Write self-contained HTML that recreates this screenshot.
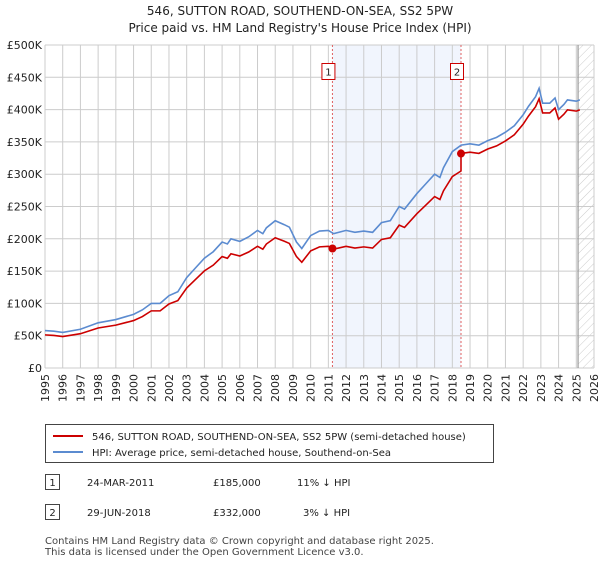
<!DOCTYPE html>
<html><head><meta charset="utf-8"><style>
body{margin:0;background:#fff;font-family:"Liberation Sans","DejaVu Sans",sans-serif;}
svg text{font-family:"DejaVu Sans","Liberation Sans",sans-serif;}
</style></head><body>
<svg id="chart" width="600" height="560" viewBox="0 0 600 560" xmlns="http://www.w3.org/2000/svg">
<defs><pattern id="hatch" width="6" height="6" patternUnits="userSpaceOnUse" patternTransform="rotate(45)"><line x1="0" y1="0" x2="0" y2="6" stroke="#ccc" stroke-width="1"/></pattern></defs>
<text x="300" y="15" text-anchor="middle" font-size="12" fill="#222">546, SUTTON ROAD, SOUTHEND-ON-SEA, SS2 5PW</text>
<text x="300" y="32" text-anchor="middle" font-size="12" fill="#222">Price paid vs. HM Land Registry's House Price Index (HPI)</text>
<g id="plot"></g>
<g>
<rect x="45.5" y="424.5" width="448" height="38" fill="#fff" stroke="#444"/>
<line x1="53" y1="436" x2="83" y2="436" stroke="#cc0000" stroke-width="2"/>
<text x="92" y="440" font-size="10" fill="#222">546, SUTTON ROAD, SOUTHEND-ON-SEA, SS2 5PW (semi-detached house)</text>
<line x1="53" y1="452" x2="83" y2="452" stroke="#5b8bd0" stroke-width="2"/>
<text x="92" y="456" font-size="10" fill="#222">HPI: Average price, semi-detached house, Southend-on-Sea</text>
</g>
<g font-size="10" fill="#222">
<rect x="45.5" y="474.5" width="14" height="15" fill="#fff" stroke="#444"/><text x="52.5" y="486" text-anchor="middle">1</text>
<text x="87" y="486">24-MAR-2011</text><text x="213" y="486">£185,000</text><text x="297" y="486">11% ↓ HPI</text>
<rect x="45.5" y="504.5" width="14" height="15" fill="#fff" stroke="#444"/><text x="52.5" y="516" text-anchor="middle">2</text>
<text x="87" y="516">29-JUN-2018</text><text x="213" y="516">£332,000</text><text x="303" y="516">3% ↓ HPI</text>
</g>
<text x="45" y="544" font-size="10" fill="#444">Contains HM Land Registry data © Crown copyright and database right 2025.</text>
<text x="45" y="555" font-size="10" fill="#444">This data is licensed under the Open Government Licence v3.0.</text>
</svg>
<script>
const hpiYears=[1995,1995.5,1996,1997,1998,1999,2000,2000.5,2001,2001.5,2002,2002.5,2003,2003.5,2004,2004.5,2005,2005.3,2005.5,2006,2006.5,2007,2007.3,2007.5,2008,2008.5,2008.8,2009.2,2009.5,2010,2010.5,2011,2011.3,2012,2012.5,2013,2013.5,2014,2014.5,2015,2015.3,2016,2016.5,2017,2017.3,2017.5,2018,2018.5,2019,2019.5,2020,2020.5,2021,2021.5,2022,2022.3,2022.7,2022.9,2023.1,2023.5,2023.8,2024,2024.3,2024.5,2025,2025.2];
const hpiValues=[58,57,55,60,70,75,83,90,100,100,112,118,140,155,170,180,195,192,200,196,203,213,208,217,228,222,218,195,185,205,212,213,208,213,210,212,210,225,228,250,246,270,285,300,295,310,335,345,347,345,352,357,365,375,392,405,420,433,410,410,418,400,408,415,413,415];
const saleDates=[2011.23,2018.49];
const salePrices=[185,332];
const saleLabels=["1","2"];
const yTicks=[0,50,100,150,200,250,300,350,400,450,500];
const yTickLabels=["£0","£50K","£100K","£150K","£200K","£250K","£300K","£350K","£400K","£450K","£500K"];
const xYears=[1995,1996,1997,1998,1999,2000,2001,2002,2003,2004,2005,2006,2007,2008,2009,2010,2011,2012,2013,2014,2015,2016,2017,2018,2019,2020,2021,2022,2023,2024,2025,2026];

const X0=45,X1=594,Y0=368,Y1=45;
const xs=y=>X0+(y-1995)/(2026-1995)*(X1-X0);
const ys=v=>Y0-v/500*(Y0-Y1);
const NS="http://www.w3.org/2000/svg";
const g=document.getElementById('plot');
function mk(t,a){const e=document.createElementNS(NS,t);for(const k in a)e.setAttribute(k,a[k]);g.appendChild(e);return e;}
function hpiAt(t){for(let i=0;i<hpiYears.length-1;i++){if(t<=hpiYears[i+1]){const f=(t-hpiYears[i])/(hpiYears[i+1]-hpiYears[i]);return hpiValues[i]+f*(hpiValues[i+1]-hpiValues[i]);}}return hpiValues[hpiValues.length-1];}

let e=mk('rect',{x:xs(saleDates[0]),y:Y1,width:xs(saleDates[1])-xs(saleDates[0]),height:Y0-Y1,fill:'#eef3fd',opacity:0.8});


e=mk('rect',{x:xs(2025.1),y:Y1,width:X1-xs(2025.1),height:Y0-Y1,fill:'url(#hatch)'});


yTicks.forEach((v,i)=>{
 e=mk('line',{x1:X0,x2:X1,y1:ys(v),y2:ys(v),stroke:'#ccc'});
 
 
 e=mk('text',{x:X0-3,y:ys(v)+4,'text-anchor':'end','font-size':11,fill:'#222'});
 e.textContent=yTickLabels[i];
 
 
});
xYears.forEach(y=>{
 e=mk('line',{x1:xs(y),x2:xs(y),y1:Y1,y2:Y0,stroke:'#ccc'});
 
 
 e=mk('text',{x:0,y:0,'text-anchor':'end','font-size':11,fill:'#222',transform:`translate(${xs(y)+4},${Y0+6}) rotate(-90)`});
 e.textContent=y;
 
 
});
e=mk('line',{x1:xs(2025.1),x2:xs(2025.1),y1:Y1,y2:Y0,stroke:'#999','stroke-width':1.2});


saleDates.forEach((d,i)=>{
 e=mk('line',{x1:xs(d),x2:xs(d),y1:Y1,y2:Y0,stroke:'#e06060','stroke-dasharray':'2,2'});
 
 
});
e=mk('polyline',{points:hpiYears.map((y,i)=>xs(y)+','+ys(hpiValues[i])).join(' '),fill:'none',stroke:'#5b8bd0','stroke-width':1.6});


const pts=[];
hpiYears.forEach((y,i)=>{
 if(y<saleDates[1]){pts.push([y,hpiValues[i]*salePrices[0]/hpiAt(saleDates[0])]);}
 else{ if(pts.length&&pts[pts.length-1][0]<saleDates[1]){pts.push([saleDates[1],hpiAt(saleDates[1])*salePrices[0]/hpiAt(saleDates[0])]);pts.push([saleDates[1],salePrices[1]]);}
  pts.push([y,hpiValues[i]*salePrices[1]/hpiAt(saleDates[1])]);}
});
e=mk('polyline',{points:pts.map(p=>xs(p[0])+','+ys(p[1])).join(' '),fill:'none',stroke:'#cc0000','stroke-width':1.6});


saleDates.forEach((d,i)=>{
 e=mk('circle',{cx:xs(d),cy:ys(salePrices[i]),r:4,fill:'#cc0000'});
 
 
 e=mk('rect',{x:xs(d)-10.5,y:63.5,width:13,height:16,fill:'#fff',stroke:'#cc0000'});
 
 
 e=mk('text',{x:xs(d)-4,y:75.5,'text-anchor':'middle','font-size':10,fill:'#222'});
 e.textContent=saleLabels[i];
 
 
});
</script>
</body></html>
